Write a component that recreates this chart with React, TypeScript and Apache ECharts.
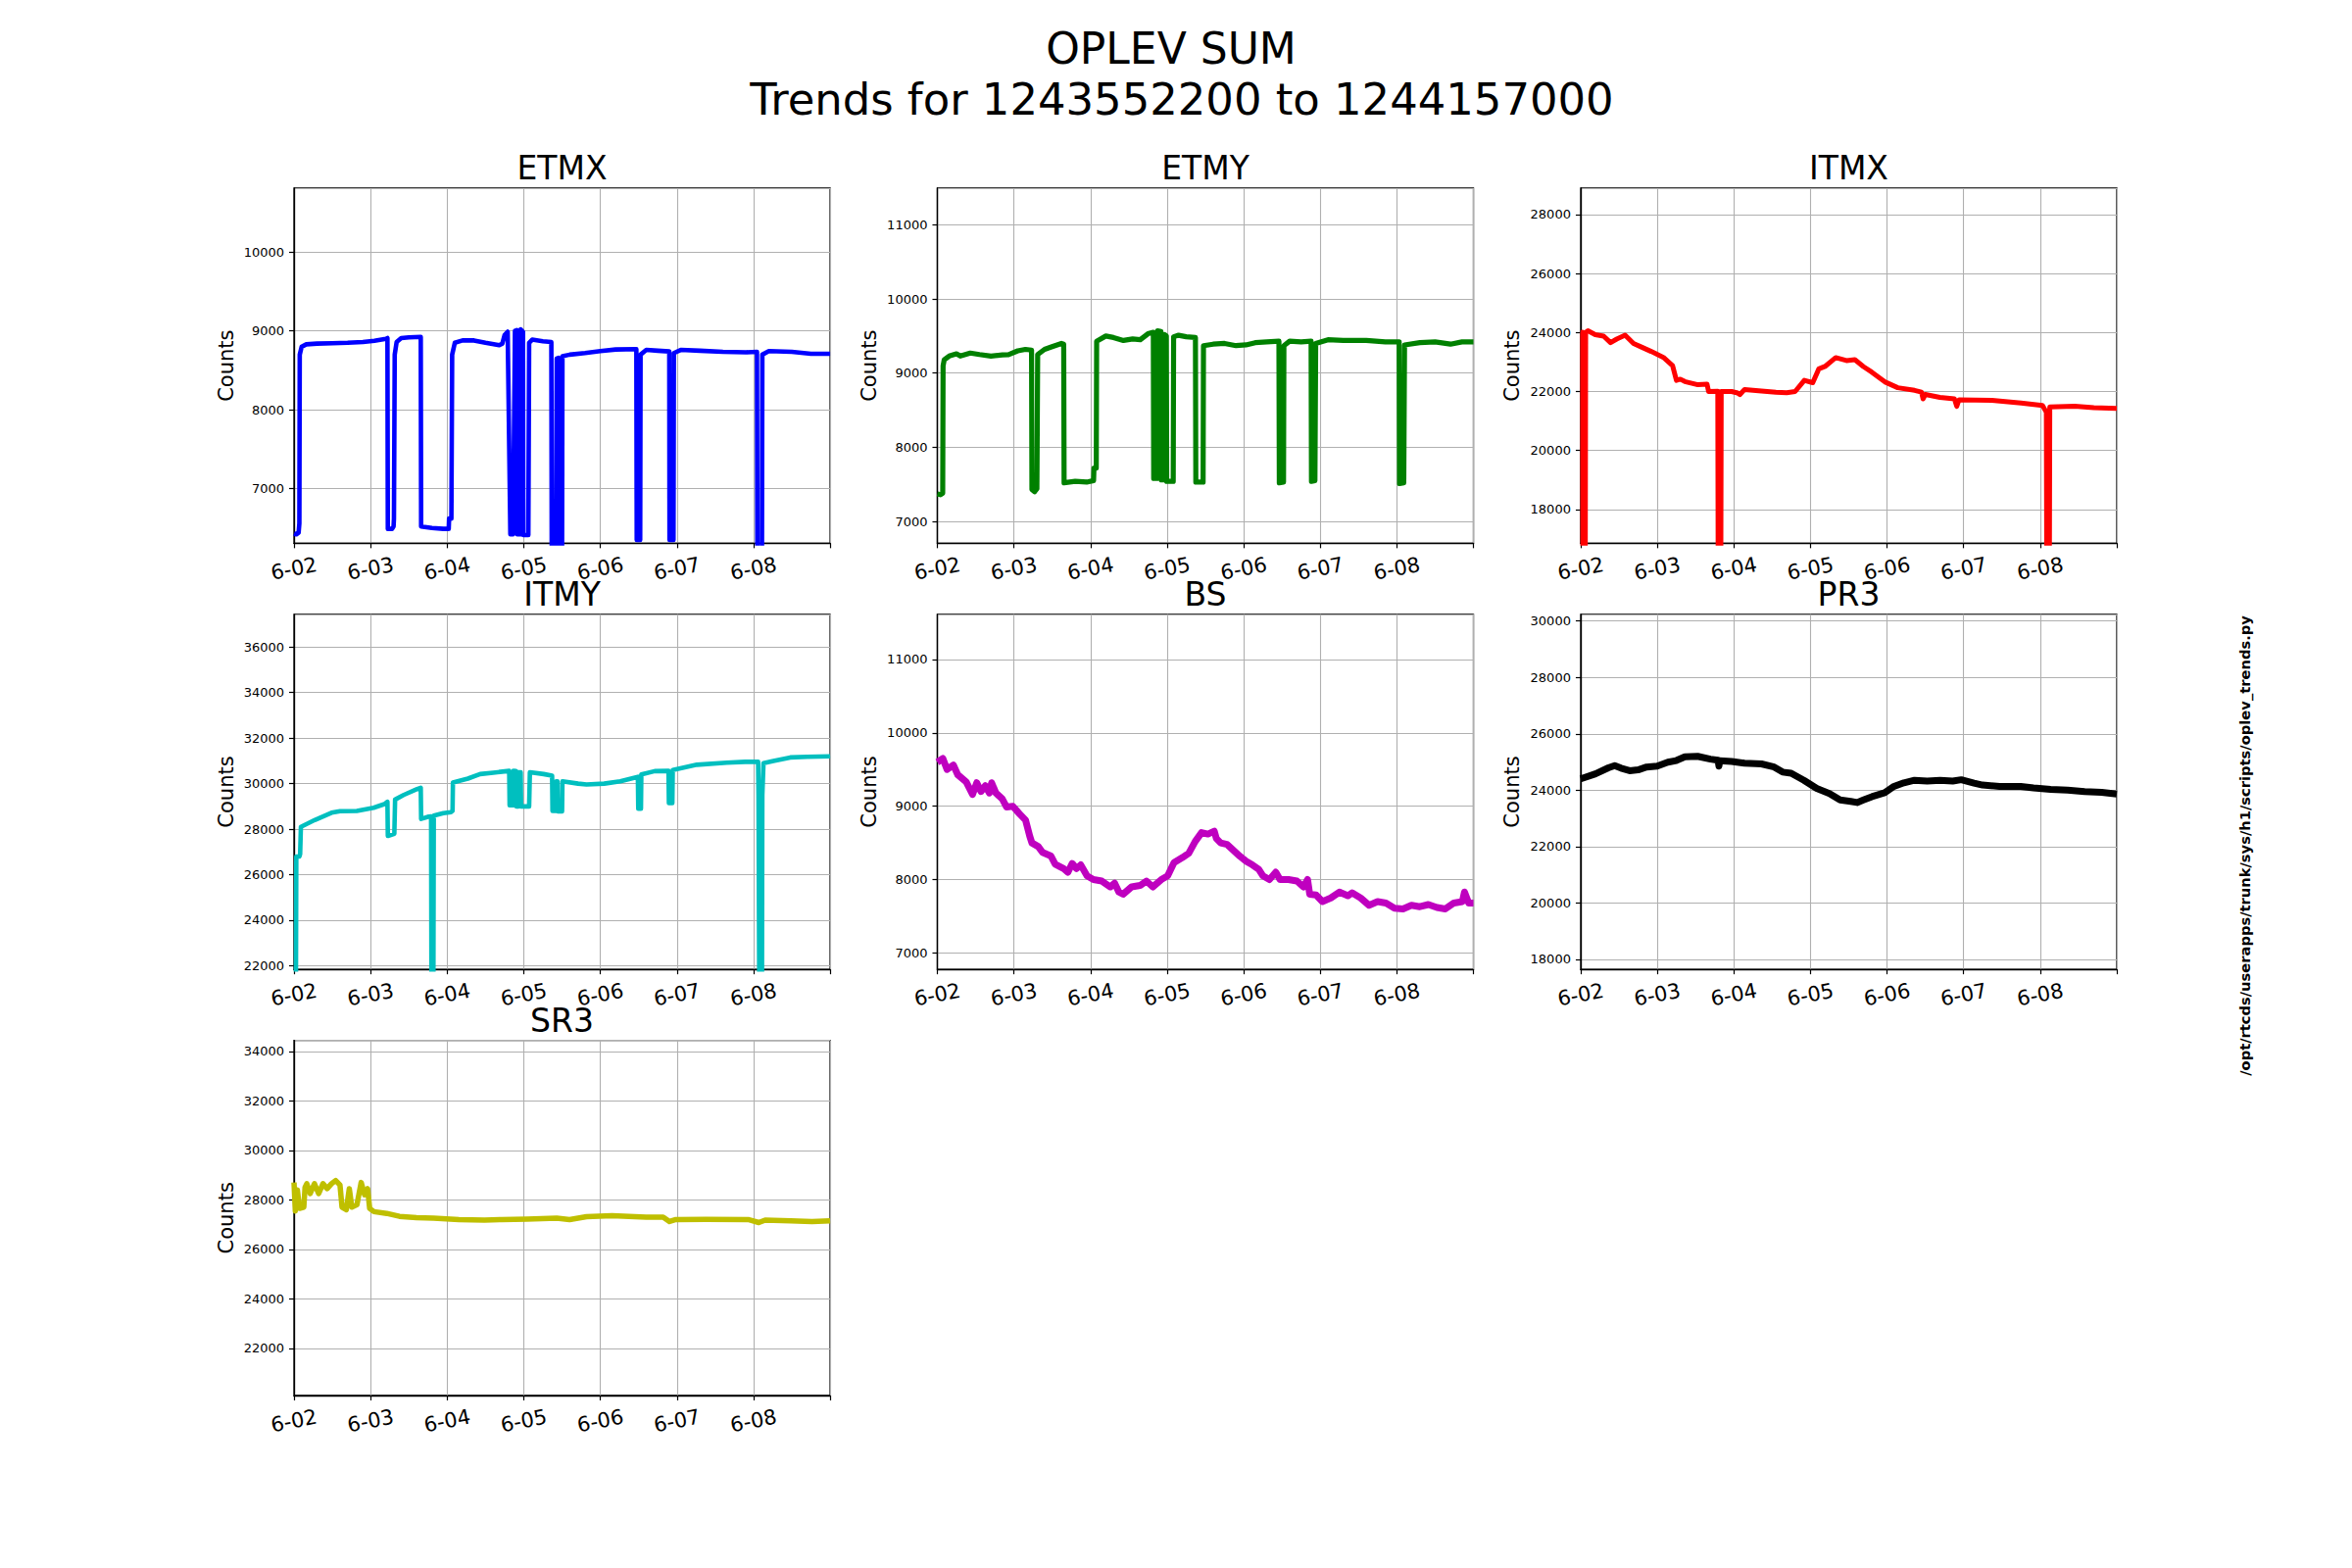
import React, { useEffect, useRef } from "react";
import * as echarts from "echarts";

const SUPTITLE_LINES = ["OPLEV SUM", "Trends for 1243552200 to 1244157000"];
const SIDE_TEXT = "/opt/rtcds/userapps/trunk/sys/h1/scripts/oplev_trends.py";
const DAY_LABELS = ["6-02", "6-03", "6-04", "6-05", "6-06", "6-07", "6-08", ""];
const PANEL_NAMES = ["ETMX", "ETMY", "ITMX", "ITMY", "BS", "PR3", "SR3"];
const PANEL_COLORS = ["#0000ff", "#008000", "#ff0000", "#00bfbf", "#bf00bf", "#000000", "#bfbf00"];
const Y_MIN = [6307, 6705, 16856, 21840, 6776, 17640, 20090];
const Y_MAX = [10812, 11494, 28896, 37440, 11616, 30240, 34440];
const Y_SPLITS = [5, 5, 5, 7, 5, 6, 7];
const Y_STEP = [1000, 1000, 2000, 2000, 1000, 2000, 2000];

// [day since 6-02 00:00, counts]
const ETMX = [
  [0, 6430], [0.03, 6420], [0.06, 6440], [0.07, 6560], [0.075, 8700], [0.1, 8800], [0.16, 8830], [0.3, 8840], [0.5, 8845], [0.7, 8850], [0.9, 8860], [1.05, 8875], [1.2, 8900], [1.22, 8910],
  [1.225, 6490], [1.28, 6490], [1.3, 6520], [1.305, 6620], [1.315, 8700], [1.34, 8860], [1.4, 8910], [1.5, 8920], [1.655, 8925],
  [1.66, 6520], [1.8, 6500], [1.95, 6490], [2.02, 6490], [2.025, 6620], [2.055, 6620], [2.065, 8700], [2.1, 8850], [2.2, 8880], [2.35, 8880], [2.5, 8850], [2.68, 8820], [2.72, 8840], [2.75, 8950], [2.79, 8990],
  [2.825, 6420], [2.86, 6420], [2.885, 9000], [2.91, 9010], [2.915, 6420], [2.95, 6420], [2.96, 9020], [2.99, 8990], [2.995, 6410], [3.06, 6410], [3.07, 8850], [3.11, 8890], [3.25, 8870], [3.36, 8860],
  [3.365, 6200], [3.42, 6200], [3.43, 8650], [3.455, 8660], [3.46, 6200], [3.5, 6200], [3.505, 8680], [3.6, 8700], [3.8, 8720], [4.0, 8745], [4.2, 8765], [4.47, 8770],
  [4.475, 6350], [4.52, 6350], [4.525, 8700], [4.6, 8760], [4.75, 8750], [4.9, 8740],
  [4.903, 6350], [4.955, 6350], [4.96, 8720], [5.05, 8760], [5.3, 8750], [5.6, 8735], [5.9, 8730], [6.045, 8735],
  [6.05, 6200], [6.11, 6200], [6.115, 8700], [6.2, 8745], [6.5, 8735], [6.75, 8710], [7, 8710],
];

const ETMY = [
  [0, 7370], [0.04, 7360], [0.07, 7380], [0.075, 9100], [0.09, 9180], [0.155, 9230], [0.25, 9260], [0.3, 9230], [0.43, 9270], [0.55, 9250], [0.7, 9230], [0.85, 9245], [0.93, 9250], [1.05, 9300], [1.15, 9320], [1.23, 9310],
  [1.235, 7430], [1.27, 7400], [1.3, 7440], [1.31, 9250], [1.4, 9320], [1.48, 9350], [1.62, 9400], [1.65, 9390],
  [1.655, 7520], [1.8, 7540], [1.95, 7530], [2.04, 7550], [2.045, 7720], [2.075, 7720], [2.08, 9430], [2.2, 9500], [2.3, 9480], [2.43, 9440], [2.55, 9460], [2.65, 9450], [2.75, 9530], [2.82, 9550],
  [2.825, 7580], [2.87, 7580], [2.875, 9570], [2.92, 9560], [2.925, 7560], [2.96, 7560], [2.965, 9520], [2.99, 9500], [2.995, 7540], [3.08, 7540], [3.085, 9490], [3.15, 9510], [3.25, 9490], [3.37, 9480],
  [3.375, 7530], [3.47, 7530], [3.475, 9370], [3.6, 9390], [3.75, 9400], [3.9, 9370], [4.03, 9380], [4.15, 9410], [4.3, 9420], [4.46, 9430],
  [4.465, 7520], [4.52, 7530], [4.525, 9370], [4.6, 9430], [4.75, 9420], [4.88, 9430],
  [4.885, 7540], [4.93, 7550], [4.94, 9400], [5.1, 9450], [5.3, 9440], [5.6, 9440], [5.85, 9420], [6.03, 9420],
  [6.035, 7510], [6.09, 7520], [6.1, 9380], [6.3, 9410], [6.5, 9420], [6.7, 9390], [6.85, 9420], [7, 9420],
];

const ITMX = [
  [0, 24000], [0.025, 24010], [0.028, 16000], [0.06, 16000], [0.065, 24000], [0.095, 24060], [0.19, 23930], [0.3, 23880], [0.39, 23660], [0.47, 23780], [0.58, 23910], [0.69, 23630], [0.8, 23500], [0.92, 23360], [1.08, 23160], [1.2, 22880], [1.25, 22380], [1.3, 22420], [1.36, 22340], [1.53, 22230], [1.65, 22250], [1.67, 22000], [1.79, 22010],
  [1.795, 16000], [1.83, 16000], [1.835, 22000], [1.97, 22000], [2.05, 21950], [2.08, 21900], [2.14, 22070], [2.36, 22020], [2.55, 21980], [2.69, 21960], [2.8, 22000], [2.92, 22380], [3.03, 22300], [3.11, 22770], [3.19, 22850], [3.33, 23150], [3.47, 23050], [3.58, 23080], [3.69, 22850], [3.8, 22660], [3.97, 22330], [4.14, 22130], [4.36, 22040], [4.45, 21980], [4.47, 21750], [4.5, 21900], [4.69, 21800], [4.88, 21750], [4.91, 21500], [4.94, 21720], [5.37, 21700], [5.75, 21610], [6.03, 21530], [6.08, 21300],
  [6.085, 16000], [6.12, 16000], [6.125, 21480], [6.45, 21500], [6.7, 21450], [7, 21430],
];

const ITMY = [
  [0, 21000], [0.025, 21000], [0.03, 26800], [0.07, 26800], [0.08, 26900], [0.09, 28100], [0.27, 28400], [0.49, 28720], [0.6, 28790], [0.82, 28800], [1.04, 28940], [1.18, 29100], [1.22, 29200],
  [1.225, 27700], [1.31, 27800], [1.32, 29300], [1.43, 29500], [1.6, 29750], [1.655, 29820],
  [1.66, 28450], [1.76, 28550], [1.79, 28560], [1.795, 21000], [1.82, 21000], [1.825, 28600], [1.95, 28700], [2.05, 28750], [2.07, 28800], [2.075, 30050], [2.27, 30220], [2.43, 30420], [2.6, 30480], [2.81, 30560],
  [2.815, 29050], [2.86, 29050], [2.865, 30560], [2.9, 30550], [2.905, 29000], [2.93, 29000], [2.935, 30500], [2.96, 30500], [2.965, 29000], [3.07, 29000], [3.08, 30500], [3.26, 30420], [3.37, 30350],
  [3.375, 28800], [3.42, 28800], [3.425, 30100], [3.44, 30100], [3.445, 28780], [3.5, 28780], [3.505, 30100], [3.71, 30000], [3.82, 29960], [4.05, 30000], [4.26, 30100], [4.49, 30300],
  [4.495, 28900], [4.53, 28900], [4.535, 30400], [4.71, 30550], [4.89, 30560], [4.895, 29150], [4.94, 29150], [4.945, 30600], [5.26, 30830], [5.65, 30920], [5.89, 30960], [6.06, 30960],
  [6.065, 29450], [6.075, 21000], [6.11, 21000], [6.115, 29500], [6.13, 30900], [6.26, 31000], [6.48, 31150], [6.7, 31180], [7, 31200],
];

const BS = [
  [0, 9600], [0.072, 9650], [0.127, 9500], [0.21, 9560], [0.266, 9430], [0.377, 9330], [0.46, 9160], [0.515, 9320], [0.57, 9200], [0.626, 9280], [0.68, 9180], [0.709, 9320], [0.764, 9180], [0.847, 9100], [0.903, 8990], [0.986, 9000],
  [1.069, 8900], [1.152, 8810], [1.207, 8590], [1.235, 8500], [1.318, 8450], [1.373, 8370], [1.484, 8320], [1.539, 8210], [1.65, 8150], [1.705, 8100], [1.761, 8220], [1.816, 8150], [1.872, 8200], [1.955, 8050],
  [2.038, 8000], [2.148, 7980], [2.259, 7900], [2.315, 7950], [2.37, 7830], [2.425, 7800], [2.536, 7900], [2.647, 7920], [2.73, 7980], [2.813, 7900], [2.924, 8000],
  [3.007, 8050], [3.09, 8230], [3.2, 8300], [3.283, 8360], [3.367, 8520], [3.45, 8640], [3.533, 8620], [3.616, 8660], [3.643, 8560], [3.699, 8500], [3.782, 8480], [3.865, 8400], [3.948, 8320],
  [4.031, 8250], [4.114, 8200], [4.197, 8140], [4.252, 8050], [4.336, 8000], [4.419, 8100], [4.474, 8000], [4.585, 8000], [4.695, 7980], [4.779, 7900], [4.834, 8000], [4.862, 7800], [4.945, 7790],
  [5.028, 7700], [5.138, 7750], [5.249, 7830], [5.36, 7780], [5.415, 7820], [5.526, 7750], [5.637, 7650], [5.748, 7700], [5.858, 7680], [5.969, 7610],
  [6.08, 7600], [6.19, 7650], [6.3, 7630], [6.412, 7660], [6.523, 7620], [6.633, 7600], [6.744, 7680], [6.855, 7700], [6.883, 7830], [6.938, 7680], [7, 7680],
];

const PR3 = [
  [0, 24400], [0.194, 24580], [0.361, 24790], [0.444, 24870], [0.527, 24780], [0.639, 24690], [0.75, 24720], [0.861, 24820], [0.999, 24850],
  [1.138, 24990], [1.249, 25050], [1.36, 25180], [1.527, 25200], [1.694, 25100], [1.793, 25060], [1.805, 24850], [1.816, 25040], [1.971, 25020],
  [2.138, 24960], [2.36, 24930], [2.526, 24820], [2.637, 24640], [2.748, 24600], [2.915, 24350],
  [3.082, 24060], [3.248, 23880], [3.387, 23650], [3.526, 23600], [3.609, 23560], [3.692, 23650], [3.803, 23770], [3.97, 23910],
  [4.081, 24120], [4.22, 24260], [4.359, 24350], [4.525, 24320], [4.692, 24350], [4.858, 24320], [4.969, 24370],
  [5.136, 24250], [5.247, 24180], [5.469, 24130], [5.747, 24130], [5.913, 24080],
  [6.136, 24030], [6.358, 24000], [6.58, 23950], [6.802, 23920], [7, 23860],
];

const SR3 = [
  [0, 28700], [0.017, 27550], [0.044, 28400], [0.072, 27650], [0.128, 27700], [0.144, 28500], [0.167, 28650], [0.211, 28250], [0.267, 28650], [0.322, 28250], [0.378, 28650], [0.433, 28450], [0.489, 28650], [0.544, 28780], [0.6, 28600], [0.627, 27700], [0.683, 27600], [0.722, 28450], [0.755, 27700], [0.822, 27800], [0.877, 28700], [0.922, 28200], [0.961, 28450], [0.988, 27650],
  [1.044, 27520], [1.21, 27450], [1.377, 27330], [1.599, 27280], [1.821, 27260],
  [2.154, 27200], [2.487, 27180], [2.71, 27200], [3.043, 27220], [3.431, 27260], [3.598, 27200], [3.82, 27320],
  [4.153, 27360], [4.375, 27330], [4.597, 27300], [4.82, 27300], [4.903, 27120], [4.986, 27200],
  [5.375, 27210], [5.93, 27200], [6.069, 27080], [6.152, 27180], [6.485, 27150], [6.763, 27120], [7, 27150],
];

const SERIES_DATA = [ETMX, ETMY, ITMX, ITMY, BS, PR3, SR3];
const LINE_WIDTHS = [4.6, 5.2, 5, 4.6, 7, 7, 5.5];

const FONT = "DejaVu Sans";
const COL_LEFTS = [300, 956.47, 1612.94];
const ROW_TOPS = [192, 626.82, 1061.65];
const AX_W = 547.06;
const AX_H = 362.35;

export default function App() {
  const ref = useRef<HTMLDivElement>(null);
  useEffect(() => {
    if (!ref.current) return;
    const chart = echarts.init(ref.current, null, { renderer: "svg" });
    const grids: any[] = [];
    const xAxes: any[] = [];
    const yAxes: any[] = [];
    const series: any[] = [];
    const graphics: any[] = [];

    PANEL_NAMES.forEach((name, i) => {
      const col = i % 3;
      const row = Math.floor(i / 3);
      const left = COL_LEFTS[col];
      const top = ROW_TOPS[row];
      grids.push({
        left, top, width: AX_W, height: AX_H,
        show: true, borderColor: "#000", borderWidth: 1.3, backgroundColor: "transparent",
        containLabel: false,
      });
      xAxes.push({
        type: "value", gridIndex: i, min: 0, max: 7, interval: 1,
        axisLine: { show: true, onZero: false, lineStyle: { color: "#000", width: 1.3 } },
        axisTick: { show: true, length: 5, lineStyle: { color: "#000", width: 1.2 } },
        axisLabel: {
          show: true, rotate: 11, align: "center", verticalAlign: "middle", margin: 26,
          fontSize: 21, fontFamily: FONT, color: "#000",
          formatter: (v: number) => DAY_LABELS[Math.round(v)] ?? "",
        },
        splitLine: { show: true, lineStyle: { color: "#b0b0b0", width: 1.1 } },
      });
      const step = Y_STEP[i];
      yAxes.push({
        type: "value", gridIndex: i, min: Y_MIN[i], max: Y_MAX[i], splitNumber: Y_SPLITS[i],
        name: "Counts", nameLocation: "middle", nameGap: 59, nameRotate: 90,
        nameTextStyle: { fontSize: 21, fontFamily: FONT, color: "#000" },
        axisLine: { show: true, lineStyle: { color: "#000", width: 1.3 } },
        axisTick: { show: true, length: 5, lineStyle: { color: "#000", width: 1.2 } },
        axisLabel: {
          show: true, margin: 10, fontSize: 13, fontFamily: FONT, color: "#000",
          showMinLabel: false, showMaxLabel: false,
          formatter: (v: number) => (Math.abs(v % step) < 1e-6 ? String(v) : ""),
        },
        splitLine: { show: true, lineStyle: { color: "#b0b0b0", width: 1.1 } },
      });
      series.push({
        type: "line", name, xAxisIndex: i, yAxisIndex: i, data: SERIES_DATA[i],
        showSymbol: false, symbol: "none", clip: true, silent: true,
        lineStyle: { color: PANEL_COLORS[i], width: LINE_WIDTHS[i], join: "round" },
        z: 3,
      });
      graphics.push({
        type: "text", x: left + AX_W / 2, y: top - 20.5,
        style: {
          text: name, font: `33px "${FONT}"`, fill: "#000",
          align: "center", verticalAlign: "middle", textAlign: "center", textVerticalAlign: "middle",
        },
      });
    });

    graphics.push({
      type: "text", x: 1195, y: 49.6,
      style: {
        text: SUPTITLE_LINES[0], font: `44px "${FONT}"`, fill: "#000",
        align: "center", verticalAlign: "middle", textAlign: "center", textVerticalAlign: "middle",
      },
    });
    graphics.push({
      type: "text", x: 1206, y: 101.6,
      style: {
        text: SUPTITLE_LINES[1], font: `44.9px "${FONT}"`, fill: "#000",
        align: "center", verticalAlign: "middle", textAlign: "center", textVerticalAlign: "middle",
      },
    });
    graphics.push({
      type: "text", x: 2290, y: 863, rotation: Math.PI / 2,
      style: {
        text: SIDE_TEXT, font: `bold 14.7px "${FONT}"`, fill: "#000",
        align: "center", verticalAlign: "middle", textAlign: "center", textVerticalAlign: "middle",
      },
    });

    chart.setOption({
      animation: false,
      backgroundColor: "#ffffff",
      textStyle: { fontFamily: FONT },
      grid: grids,
      xAxis: xAxes,
      yAxis: yAxes,
      series,
      graphic: { elements: graphics },
    });
    return () => chart.dispose();
  }, []);
  return (
    <div
      ref={ref}
      style={{ position: "absolute", left: 0, top: 0, width: 2400, height: 1600, background: "#fff" }}
    />
  );
}
